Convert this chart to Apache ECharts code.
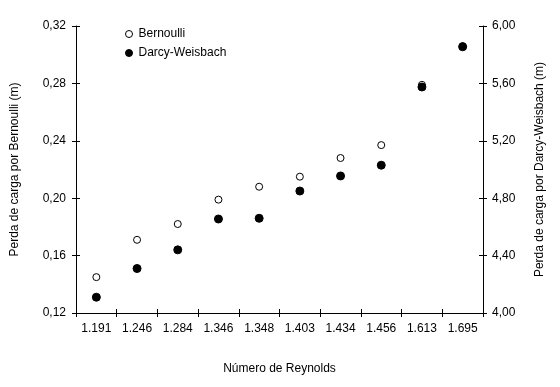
<!DOCTYPE html>
<html><head><meta charset="utf-8">
<script src="https://cdn.jsdelivr.net/npm/echarts@6/dist/echarts.min.js"></script>
<style>html,body{margin:0;padding:0;background:#fff}#c{width:560px;height:387px}</style>
</head><body><div id="c"></div>
<script>
var categories = ['1.191','1.246','1.284','1.346','1.348','1.403','1.434','1.456','1.613','1.695'];
var bernoulli = [0.145, 0.171, 0.182, 0.199, 0.208, 0.215, 0.228, 0.237, 0.279, 0.306];
var darcy = [4.11, 4.31, 4.44, 4.655, 4.66, 4.85, 4.955, 5.03, 5.575, 5.855];
var leftTicks = {min: 0.12, max: 0.32, interval: 0.04};
var rightTicks = {min: 4.0, max: 6.0, interval: 0.4};

var font = 'Liberation Sans, Arial, sans-serif';
var fmt = function(v){ return v.toFixed(2).replace('.', ','); };
var lineS = {show: true, lineStyle: {color: '#000', width: 1}};
var tickOut = {show: true, inside: false, length: 4, lineStyle: {color: '#000'}};
var tickIn = {show: true, inside: true, length: 4, lineStyle: {color: '#000'}};
var lbl = {color: '#000', fontSize: 12, fontFamily: font, formatter: fmt};

var chart = echarts.init(document.getElementById('c'));
chart.setOption({
  animation: false,
  backgroundColor: '#fff',
  grid: {left: 76, right: 77, top: 26, bottom: 74, containLabel: false},
  legend: {
    orient: 'vertical', left: 120, top: 23, itemWidth: 7, itemHeight: 7, itemGap: 7,
    textStyle: {color: '#000', fontSize: 12, fontFamily: font, padding: [0,0,0,1]},
    data: [
      {name: 'Bernoulli', icon: 'circle', itemStyle: {color: '#fff', borderColor: '#000', borderWidth: 1}},
      {name: 'Darcy-Weisbach', icon: 'circle', itemStyle: {color: '#000', borderColor: '#000', borderWidth: 1}}
    ]
  },
  xAxis: [{
    type: 'category', data: categories, boundaryGap: true,
    name: 'Número de Reynolds', nameLocation: 'middle', nameGap: 50,
    nameTextStyle: {color: '#000', fontSize: 12, fontFamily: font},
    axisLine: lineS, axisTick: tickOut,
    axisLabel: {color: '#000', fontSize: 12, fontFamily: font, margin: 10, interval: 0},
    splitLine: {show: false}
  }, {
    type: 'category', data: categories, boundaryGap: true, position: 'bottom',
    axisLine: {show: false}, axisTick: tickIn, axisLabel: {show: false}, splitLine: {show: false}
  }],
  yAxis: [{
    type: 'value', position: 'left', min: leftTicks.min, max: leftTicks.max, interval: leftTicks.interval,
    name: 'Perda de carga por Bernoulli (m)', nameLocation: 'middle', nameGap: 55,
    nameTextStyle: {color: '#000', fontSize: 12, fontFamily: font},
    axisLine: lineS, axisTick: tickOut, axisLabel: Object.assign({margin: 10}, lbl), splitLine: {show: false}
  }, {
    type: 'value', position: 'right', min: rightTicks.min, max: rightTicks.max, interval: rightTicks.interval,
    name: 'Perda de carga por Darcy-Weisbach (m)', nameLocation: 'middle', nameGap: 51,
    nameTextStyle: {color: '#000', fontSize: 12, fontFamily: font},
    axisLine: lineS, axisTick: tickOut, axisLabel: Object.assign({margin: 9}, lbl), splitLine: {show: false}
  }, {
    type: 'value', position: 'left', min: leftTicks.min, max: leftTicks.max, interval: leftTicks.interval,
    axisLine: {show: false}, axisTick: tickIn, axisLabel: {show: false}, splitLine: {show: false}
  }, {
    type: 'value', position: 'right', min: rightTicks.min, max: rightTicks.max, interval: rightTicks.interval,
    axisLine: {show: false}, axisTick: tickIn, axisLabel: {show: false}, splitLine: {show: false}
  }],
  series: [{
    name: 'Bernoulli', type: 'scatter', xAxisIndex: 0, yAxisIndex: 0, data: bernoulli,
    symbol: 'circle', symbolSize: 7, z: 2,
    itemStyle: {color: '#fff', borderColor: '#000', borderWidth: 1, opacity: 1}
  }, {
    name: 'Darcy-Weisbach', type: 'scatter', xAxisIndex: 0, yAxisIndex: 1, data: darcy,
    symbol: 'circle', symbolSize: 8, z: 3,
    itemStyle: {color: '#000', borderColor: '#000', borderWidth: 1, opacity: 1}
  }]
});
</script></body></html>
